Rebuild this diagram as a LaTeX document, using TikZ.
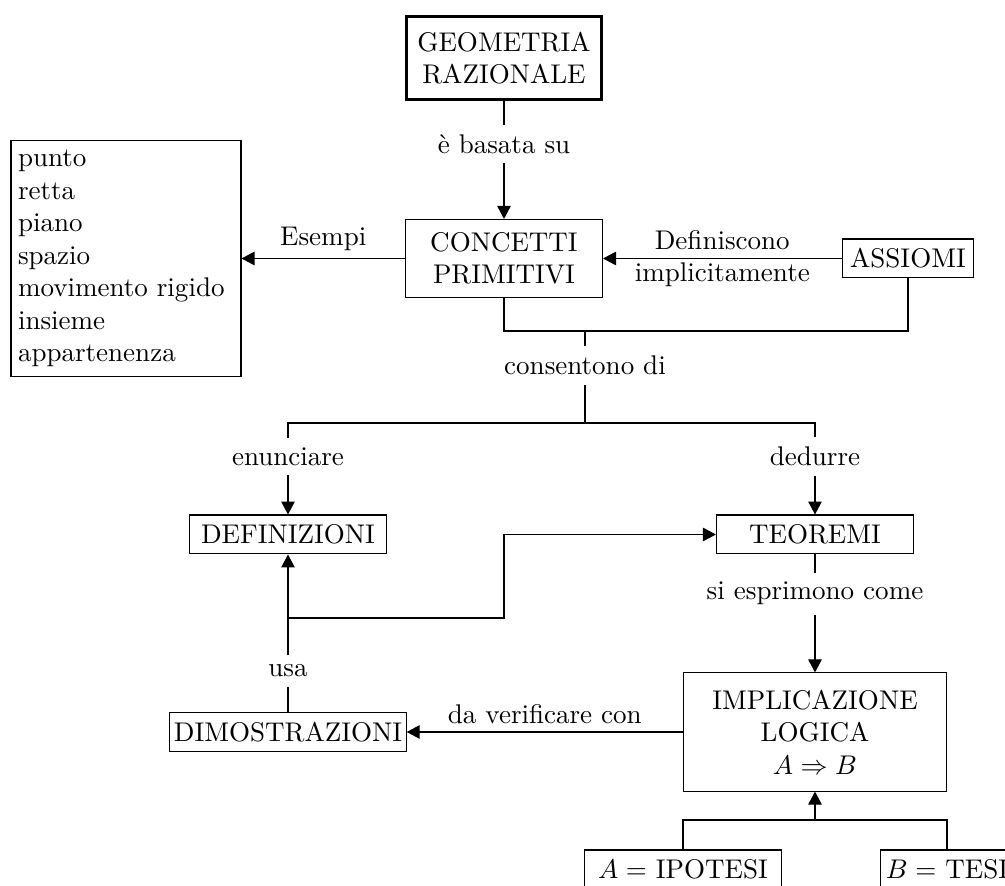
\documentclass[tikz,border=0pt]{standalone}
\usetikzlibrary{arrows.meta}

\begin{document}
\begin{tikzpicture}[
  x=0.37pt, y=-0.37pt,
  arr/.style={-{Triangle[length=4.8pt,width=5pt]}},
  box/.style={draw, minimum height=14.4pt},
  widebox/.style={box, minimum width=72.9pt},
  lab/.style={inner sep=3.33pt}
]
\useasboundingbox (0,0) rectangle (1005,886);
\clip (0,0) rectangle (1005,886);

% concept boxes
\node[draw, line width=1.2pt, minimum width=72.2pt, minimum height=30.7pt, align=center]
  (geo) at (504,58) {GEOMETRIA\\RAZIONALE};
\node[draw, minimum width=72.9pt, minimum height=28.9pt, align=center]
  (con) at (504,258.5) {CONCETTI\\PRIMITIVI};
\node[draw, inner xsep=2.6pt, text width=79.9pt, minimum height=87.3pt, align=left]
  (ex) at (126,258.5) {punto\\retta\\piano\\spazio\\movimento rigido\\insieme\\appartenenza};
\node[box, inner xsep=3pt] (ass) at (908,258.5) {ASSIOMI};
\node[widebox] (def) at (288,534.5) {DEFINIZIONI};
\node[widebox] (teo) at (815,534.5) {TEOREMI};
\node[box, inner xsep=1.5pt] (dim) at (288,732) {DIMOSTRAZIONI};
\node[draw, minimum width=97.3pt, minimum height=43.7pt, align=center]
  (imp) at (815,732) {IMPLICAZIONE\\LOGICA\\$A \Rightarrow B$};
\node[widebox] (ipo) at (683,869.5) {$A=$ IPOTESI};
\node[box, inner xsep=2pt] (tes) at (947,869.5) {$B=$ TESI};

% link labels
\node[lab] (lbl1) at (504,144) {è basata su};
\node[lab] (lbl2) at (585,365.5) {consentono di};
\node[lab] (lbl3) at (288,456.5) {enunciare};
\node[lab] (lbl4) at (815,456.5) {dedurre};
\node[lab] (lbl5) at (288,671) {usa};
\node[lab] (lbl6) at (815,593.6) {si esprimono come};

% junction points
\coordinate (j1) at (585,331);
\coordinate (j2) at (585,423);
\coordinate (j3) at (288,618);
\coordinate (j4) at (504,618);
\coordinate (j5) at (815,820);

% connectors
\draw (geo) -- (lbl1);
\draw[arr] (lbl1) -- (con);
\draw[arr] (con.west) -- node[midway, above, inner sep=2.5pt] {Esempi} (ex.east);
\draw[arr] (ass.west) -- node[midway, align=center] {Definiscono\\implicitamente} (con.east);
\draw (con.south) |- (j1) -| (ass.south);
\draw (j1) -- (lbl2);
\draw (lbl2) -- (j2);
\draw (lbl3) |- (j2) -| (lbl4);
\draw[arr] (lbl3) -- (def);
\draw[arr] (lbl4) -- (teo);
\draw (dim) -- (lbl5);
\draw[arr] (lbl5) -- (def);
\draw[arr] (j3) -- (j4) |- (teo.west);
\draw (teo) -- (lbl6);
\draw[arr] (lbl6) -- (imp);
\draw[arr] (imp.west) -- node[midway, above, inner sep=3pt] {da verificare con} (dim.east);
\draw (ipo) |- (j5) -| (tes);
\draw[arr] (j5) -- (imp);
\end{tikzpicture}
\end{document}
